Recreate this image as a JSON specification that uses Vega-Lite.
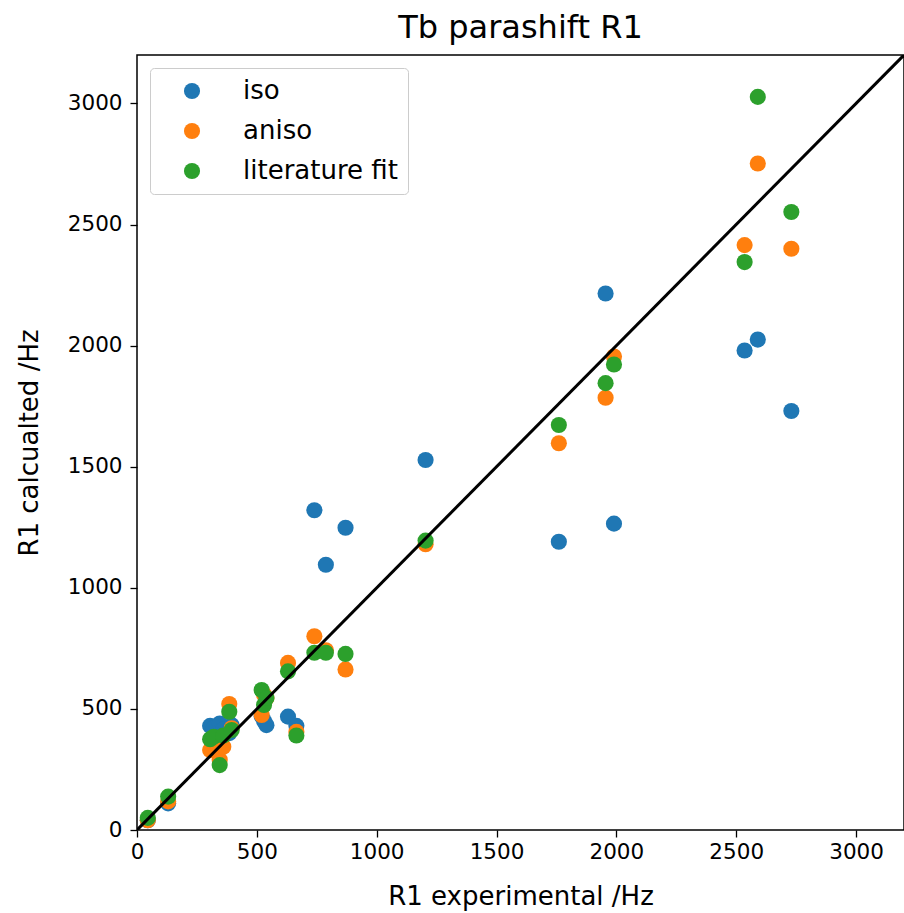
{
  "$schema": "https://vega.github.io/schema/vega-lite/v6.json",
  "width": 767,
  "height": 775,
  "autosize": "none",
  "padding": {"left": 137, "top": 55, "right": 0, "bottom": 83},
  "background": "white",
  "title": {"text": "Tb parashift R1", "font": "DejaVu Sans", "fontSize": 32, "fontWeight": "normal", "color": "black", "offset": 10},
  "config": {
    "view": {"stroke": "black", "strokeWidth": 1.5},
    "axis": {"grid": false, "domain": false, "tickColor": "black", "tickSize": 7, "tickWidth": 1.3, "labelFont": "DejaVu Sans", "labelFontSize": 21.5, "labelColor": "black", "titleFont": "DejaVu Sans", "titleFontSize": 26, "titleFontWeight": "normal", "titleColor": "black", "labelPadding": 4, "labelFlush": false, "format": "d"}
  },
  "datasets": {
    "pts": [
      {"s": "iso", "x": 45, "y": 40}, {"s": "iso", "x": 130, "y": 110}, {"s": "iso", "x": 305, "y": 430}, {"s": "iso", "x": 320, "y": 420}, {"s": "iso", "x": 345, "y": 440}, {"s": "iso", "x": 360, "y": 415}, {"s": "iso", "x": 385, "y": 400}, {"s": "iso", "x": 395, "y": 433}, {"s": "iso", "x": 520, "y": 470}, {"s": "iso", "x": 530, "y": 450}, {"s": "iso", "x": 540, "y": 433}, {"s": "iso", "x": 630, "y": 468}, {"s": "iso", "x": 665, "y": 430}, {"s": "iso", "x": 740, "y": 1320}, {"s": "iso", "x": 788, "y": 1095}, {"s": "iso", "x": 870, "y": 1248}, {"s": "iso", "x": 1204, "y": 1528}, {"s": "iso", "x": 1760, "y": 1190}, {"s": "iso", "x": 1955, "y": 2215}, {"s": "iso", "x": 1990, "y": 1265}, {"s": "iso", "x": 2535, "y": 1980}, {"s": "iso", "x": 2590, "y": 2025}, {"s": "iso", "x": 2730, "y": 1730},
      {"s": "aniso", "x": 45, "y": 40}, {"s": "aniso", "x": 130, "y": 118}, {"s": "aniso", "x": 305, "y": 330}, {"s": "aniso", "x": 320, "y": 360}, {"s": "aniso", "x": 345, "y": 290}, {"s": "aniso", "x": 360, "y": 344}, {"s": "aniso", "x": 385, "y": 520}, {"s": "aniso", "x": 395, "y": 420}, {"s": "aniso", "x": 520, "y": 475}, {"s": "aniso", "x": 530, "y": 560}, {"s": "aniso", "x": 540, "y": 545}, {"s": "aniso", "x": 630, "y": 690}, {"s": "aniso", "x": 665, "y": 405}, {"s": "aniso", "x": 740, "y": 800}, {"s": "aniso", "x": 788, "y": 742}, {"s": "aniso", "x": 870, "y": 663}, {"s": "aniso", "x": 1204, "y": 1180}, {"s": "aniso", "x": 1760, "y": 1597}, {"s": "aniso", "x": 1955, "y": 1785}, {"s": "aniso", "x": 1990, "y": 1955}, {"s": "aniso", "x": 2535, "y": 2415}, {"s": "aniso", "x": 2590, "y": 2752}, {"s": "aniso", "x": 2730, "y": 2400},
      {"s": "literature fit", "x": 45, "y": 50}, {"s": "literature fit", "x": 130, "y": 138}, {"s": "literature fit", "x": 305, "y": 375}, {"s": "literature fit", "x": 320, "y": 385}, {"s": "literature fit", "x": 345, "y": 268}, {"s": "literature fit", "x": 360, "y": 390}, {"s": "literature fit", "x": 385, "y": 488}, {"s": "literature fit", "x": 395, "y": 413}, {"s": "literature fit", "x": 520, "y": 578}, {"s": "literature fit", "x": 530, "y": 516}, {"s": "literature fit", "x": 540, "y": 545}, {"s": "literature fit", "x": 630, "y": 655}, {"s": "literature fit", "x": 665, "y": 390}, {"s": "literature fit", "x": 740, "y": 732}, {"s": "literature fit", "x": 788, "y": 732}, {"s": "literature fit", "x": 870, "y": 727}, {"s": "literature fit", "x": 1204, "y": 1195}, {"s": "literature fit", "x": 1760, "y": 1672}, {"s": "literature fit", "x": 1955, "y": 1845}, {"s": "literature fit", "x": 1990, "y": 1922}, {"s": "literature fit", "x": 2535, "y": 2345}, {"s": "literature fit", "x": 2590, "y": 3027}, {"s": "literature fit", "x": 2730, "y": 2552}
    ],
    "diag": [{"x": 0, "y": 0}, {"x": 3200, "y": 3200}]
  },
  "layer": [
    {
      "data": {"name": "pts"},
      "mark": {"type": "point", "filled": true, "opacity": 1, "size": 260, "shape": "circle", "clip": true},
      "encoding": {
        "x": {"field": "x", "type": "quantitative", "scale": {"domain": [0, 3200], "nice": false, "zero": false}, "axis": {"values": [0, 500, 1000, 1500, 2000, 2500, 3000], "title": "R1 experimental /Hz", "titlePadding": 21}},
        "y": {"field": "y", "type": "quantitative", "scale": {"domain": [0, 3200], "nice": false, "zero": false}, "axis": {"values": [0, 500, 1000, 1500, 2000, 2500, 3000], "title": "R1 calcualted /Hz", "titlePadding": 25, "labelPadding": 8}},
        "color": {"field": "s", "type": "nominal", "sort": ["iso", "aniso", "literature fit"], "scale": {"domain": ["iso", "aniso", "literature fit"], "range": ["#1f77b4", "#ff7f0e", "#2ca02c"]},
          "legend": {"title": null, "orient": "none", "legendX": 13, "legendY": 13, "symbolType": "circle", "symbolSize": 260, "labelFont": "DejaVu Sans", "labelFontSize": 26, "labelColor": "black", "labelOffset": 38, "rowPadding": 14, "padding": 10, "strokeColor": "#cccccc", "fillColor": "white", "cornerRadius": 4, "symbolOffset": 19}}
      }
    },
    {
      "data": {"name": "diag"},
      "mark": {"type": "line", "color": "black", "strokeWidth": 3, "clip": true},
      "encoding": {
        "x": {"field": "x", "type": "quantitative"},
        "y": {"field": "y", "type": "quantitative"}
      }
    }
  ]
}
